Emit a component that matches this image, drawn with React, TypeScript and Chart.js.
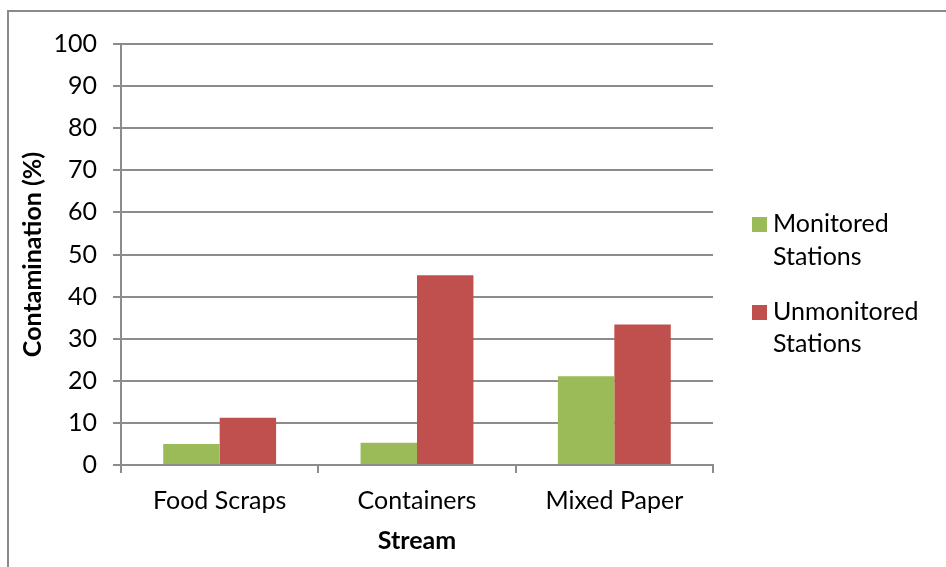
import React, { useEffect, useRef } from "react";
import { Chart, registerables } from "chart.js";

Chart.register(...registerables);

const categories = ["Food Scraps", "Containers", "Mixed Paper"];
const monitored = [5.0, 5.3, 21.1];
const unmonitored = [11.2, 45.1, 33.4];
const seriesNames = [["Monitored", "Stations"], ["Unmonitored", "Stations"]];
const seriesColors = ["#9BBB59", "#C0504D"];
const yTitle = "Contamination (%)";
const xTitle = "Stream";

const FONT = "Lato, 'Open Sans', sans-serif";
const GRID = "#8c8c8c";
const FS = 25;

const legendPlugin = {
  id: "customLegend",
  afterDraw(chart: any) {
    const ctx = chart.ctx;
    ctx.save();
    ctx.font = `${FS}px ${FONT}`;
    ctx.textBaseline = "alphabetic";
    ctx.textAlign = "left";
    const entries = [
      { sqTop: 217, lines: [232, 265] },
      { sqTop: 305, lines: [320, 352] },
    ];
    entries.forEach((e, i) => {
      ctx.fillStyle = seriesColors[i];
      ctx.fillRect(752, e.sqTop, 15, 15);
      ctx.fillStyle = "#000";
      seriesNames[i].forEach((t, j) => ctx.fillText(t, 773, e.lines[j]));
    });
    ctx.restore();
  },
};

export default function App() {
  const ref = useRef<HTMLCanvasElement>(null);
  useEffect(() => {
    if (!ref.current) return;
    const chart = new Chart(ref.current, {
      type: "bar",
      data: {
        labels: categories,
        datasets: [
          { label: seriesNames[0].join(" "), data: monitored, backgroundColor: seriesColors[0] },
          { label: seriesNames[1].join(" "), data: unmonitored, backgroundColor: seriesColors[1] },
        ],
      },
      options: {
        animation: false,
        responsive: false,
        maintainAspectRatio: false,
        layout: { padding: { left: 0, top: 44, right: 233, bottom: 0 } },
        datasets: { bar: { categoryPercentage: 0.572, barPercentage: 1 } },
        plugins: { legend: { display: false }, tooltip: { enabled: false } },
        scales: {
          x: {
            offset: true,
            grid: { offset: true, drawOnChartArea: false, drawTicks: true, tickLength: 8, color: GRID, lineWidth: 2 },
            border: { display: true, color: GRID, width: 2 },
            ticks: { color: "#000", font: { family: FONT, size: FS }, padding: 13 },
            title: { display: true, text: xTitle, color: "#000", font: { family: FONT, size: FS, weight: "bold" }, padding: { top: 0, bottom: 11 } },
            afterFit(scale: any) { scale.height = 102; },
          },
          y: {
            min: 0,
            max: 100,
            ticks: { stepSize: 10, color: "#000", font: { family: FONT, size: FS }, padding: 16 },
            grid: { color: GRID, lineWidth: 2, tickLength: 8, drawTicks: true },
            border: { display: true, color: GRID, width: 2 },
            title: { display: true, text: yTitle, color: "#000", font: { family: FONT, size: FS, weight: "bold" }, padding: { top: 18, bottom: 0 } },
            afterFit(scale: any) { scale.width = 121; },
          },
        },
      },
      plugins: [legendPlugin],
    });
    return () => chart.destroy();
  }, []);

  return (
    <div style={{ position: "fixed", left: 0, top: 0, width: 946, height: 567, overflow: "hidden", background: "#fff" }}>
      <div style={{ position: "absolute", left: 7, top: 10, width: 1000, height: 1000, border: "2px solid #8a8a8a" }} />
      <canvas ref={ref} width={946} height={567} style={{ position: "absolute", left: 0, top: 0, width: 946, height: 567 }} />
    </div>
  );
}
